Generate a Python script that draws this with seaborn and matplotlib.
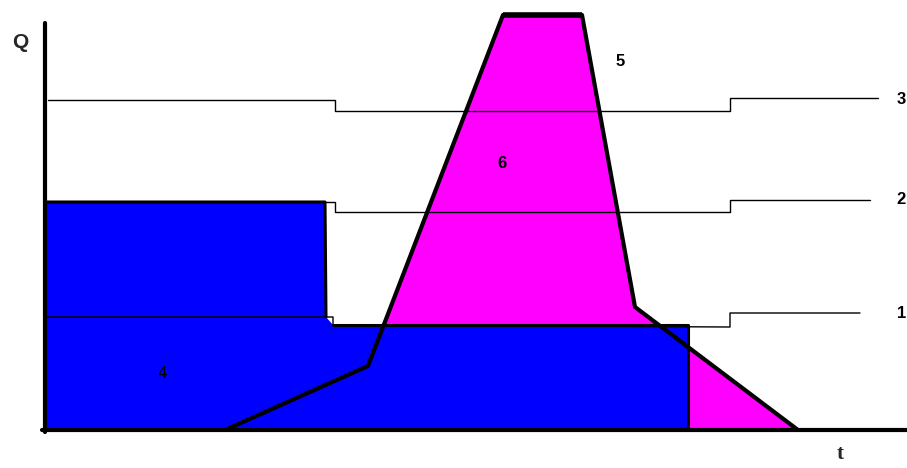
import matplotlib
matplotlib.use("Agg")
import matplotlib.pyplot as plt
import seaborn as sns
import pandas as pd

# Data (chart units: t to the right, Q upward, origin at the axes corner)
curve_t = [180, 323, 458, 537, 590, 753]
curve_q = [0, 64, 415, 415, 123, 0]

line3_t = [3, 290, 290, 685, 685, 833]
line3_q = [330, 330, 319, 319, 332, 332]

line2_t = [0, 290, 290, 685, 685, 825]
line2_q = [228, 228, 218, 218, 230, 230]

line1_t = [0, 288, 288, 685, 685, 815]
line1_q = [113, 113, 105, 103, 117, 117]

blue_t = [0, 280, 281, 288, 643, 643, 0]
blue_q = [228, 228, 113, 105, 105, 0, 0]

labels = ["1", "2", "3", "4", "5", "6"]
label_t = [861, 861, 861, 117, 575, 457]
label_q = [117, 230, 330, 57, 368, 267]

sns.set_theme(style="white")
fig = plt.figure(figsize=(9.07, 4.68), dpi=100)
ax = fig.add_axes([0, 0, 1, 1])
ax.set_xlim(-45, 862)
ax.set_ylim(-38, 430)
ax.axis("off")

# magenta area under curve 6
ax.fill(curve_t, curve_q, color="#FF00FF", zorder=1, lw=0)
# blue area 4
ax.fill(blue_t, blue_q, color="#0000FF", zorder=2, lw=0)

# blue outline
ax.plot(blue_t[:3], blue_q[:3], color="black", lw=2.2, zorder=4)
ax.plot(blue_t[3:6], blue_q[3:6], color="black", lw=2.2, zorder=4)

# thin lines 1,2,3
for tt, qq in [(line1_t, line1_q), (line2_t, line2_q), (line3_t, line3_q)]:
    df = pd.DataFrame({"t": tt, "Q": qq})
    sns.lineplot(data=df, x="t", y="Q", sort=False, estimator=None,
                 color="black", lw=1.0, ax=ax, zorder=3)

# curve 5/6
df = pd.DataFrame({"t": curve_t, "Q": curve_q})
sns.lineplot(data=df, x="t", y="Q", sort=False, estimator=None,
             color="black", lw=3.0, ax=ax, zorder=5)
ax.plot(curve_t[2:4], curve_q[2:4], color="black", lw=4.0, zorder=5,
        solid_capstyle="butt")

# axes
ax.plot([0, 0], [-2, 407], color="black", lw=3.0, zorder=6)
ax.plot([-3, 862], [0, 0], color="black", lw=3.0, zorder=6)
ax.axis("off")

for lab, tt, qq in zip(labels, label_t, label_q):
    if lab == "4":
        ax.text(tt, qq, lab, fontsize=11, ha="center", va="center",
                color="black", zorder=7)
    elif lab in ("1", "2", "3"):
        ax.text(tt, qq, lab, fontsize=12, fontweight="bold", ha="right",
                va="center", color="black", family="Liberation Sans", zorder=7)
    else:
        ax.text(tt, qq, lab, fontsize=12, fontweight="bold", ha="center",
                va="center", color="black", family="Liberation Sans", zorder=7)

ax.text(-25, 388, "Q", fontsize=15, fontweight="bold", ha="center",
        va="center", family="Liberation Sans")
ax.text(795, -24, "t", fontsize=15, fontweight="bold", ha="center",
        va="center", family="Liberation Serif")

ax.set_xlim(-45, 862)
ax.set_ylim(-38, 430)
fig.savefig("out.png", dpi=100)
